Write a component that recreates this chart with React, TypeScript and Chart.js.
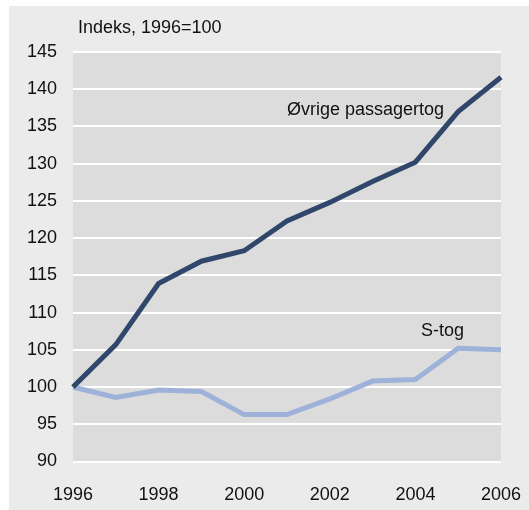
import React, { useEffect, useRef } from "react";
import { Chart, registerables } from "chart.js";

Chart.register(...registerables);

const years = [1996, 1997, 1998, 1999, 2000, 2001, 2002, 2003, 2004, 2005, 2006];
const ovrige = [100, 105.7, 113.9, 116.9, 118.3, 122.3, 124.8, 127.6, 130.2, 137.0, 141.6];
const stog = [100, 98.6, 99.6, 99.4, 96.3, 96.3, 98.4, 100.8, 101.0, 105.2, 105.0];
const yTicks = { min: 90, max: 145, step: 5 };
const xTicks = { min: 1996, max: 2006, step: 2 };
const title = "Indeks, 1996=100";
const seriesNames = ["Øvrige passagertog", "S-tog"];
const labelAnchors = [
  { x: 2001, y: 136.6 },
  { x: 2004.13, y: 106.9 },
];

const FONT = "'Liberation Sans', Arial, sans-serif";

export default function App() {
  const ref = useRef<HTMLCanvasElement | null>(null);

  useEffect(() => {
    if (!ref.current) return;
    const bgPlugin = {
      id: "bg",
      beforeDraw(chart: any) {
        const { ctx, chartArea } = chart;
        ctx.save();
        ctx.fillStyle = "#ffffff";
        ctx.fillRect(0, 0, chart.width, chart.height);
        ctx.fillStyle = "#ebebeb";
        ctx.fillRect(9, 6, chart.width - 9, chart.height - 6);
        ctx.fillStyle = "#dcdcdc";
        ctx.fillRect(chartArea.left, chartArea.top, chartArea.right - chartArea.left, chartArea.bottom - chartArea.top);
        ctx.restore();
      },
      afterDraw(chart: any) {
        const { ctx, chartArea, scales } = chart;
        ctx.save();
        ctx.fillStyle = "#111111";
        ctx.font = `18px ${FONT}`;
        ctx.textBaseline = "alphabetic";
        ctx.textAlign = "left";
        ctx.fillText(title, chartArea.left + 5, 33);
        labelAnchors.forEach((a, i) => {
          ctx.fillText(seriesNames[i], scales.x.getPixelForValue(a.x), scales.y.getPixelForValue(a.y));
        });
        ctx.restore();
      },
    };

    const chart = new Chart(ref.current, {
      type: "line",
      data: {
        datasets: [
          {
            label: seriesNames[0],
            data: years.map((x, i) => ({ x, y: ovrige[i] })),
            borderColor: "#31466b",
            borderWidth: 5,
            pointRadius: 0,
            tension: 0,
            clip: false as any,
          },
          {
            label: seriesNames[1],
            data: years.map((x, i) => ({ x, y: stog[i] })),
            borderColor: "#9db1d9",
            borderWidth: 5,
            pointRadius: 0,
            tension: 0,
            clip: false as any,
          },
        ],
      },
      options: {
        animation: false,
        responsive: false,
        layout: { padding: { left: 0, top: 52, right: 28, bottom: 0 } },
        plugins: { legend: { display: false }, tooltip: { enabled: false }, title: { display: false } },
        scales: {
          x: {
            type: "linear",
            min: xTicks.min,
            max: xTicks.max,
            grid: { display: false, drawTicks: false },
            border: { display: false },
            afterFit(scale: any) {
              scale.height = 48.5;
              scale.paddingLeft = 0;
              scale.paddingRight = 0;
            },
            ticks: {
              stepSize: xTicks.step,
              padding: 23,
              color: "#111111",
              font: { family: FONT, size: 18 },
              maxRotation: 0,
              callback: (v: any) => String(v),
            },
          },
          y: {
            min: yTicks.min,
            max: yTicks.max,
            grid: { color: "#ffffff", lineWidth: 2, drawTicks: false },
            border: { display: false },
            afterFit(scale: any) {
              scale.width = 73;
            },
            ticks: {
              stepSize: yTicks.step,
              padding: 16,
              color: "#111111",
              font: { family: FONT, size: 18 },
              callback: (v: any) => String(v),
            },
          },
        },
      },
      plugins: [bgPlugin],
    });
    return () => chart.destroy();
  }, []);

  return (
    <div style={{ position: "absolute", left: 0, top: 0, width: 529, height: 510 }}>
      <canvas ref={ref} width={529} height={510} style={{ display: "block" }} />
    </div>
  );
}
